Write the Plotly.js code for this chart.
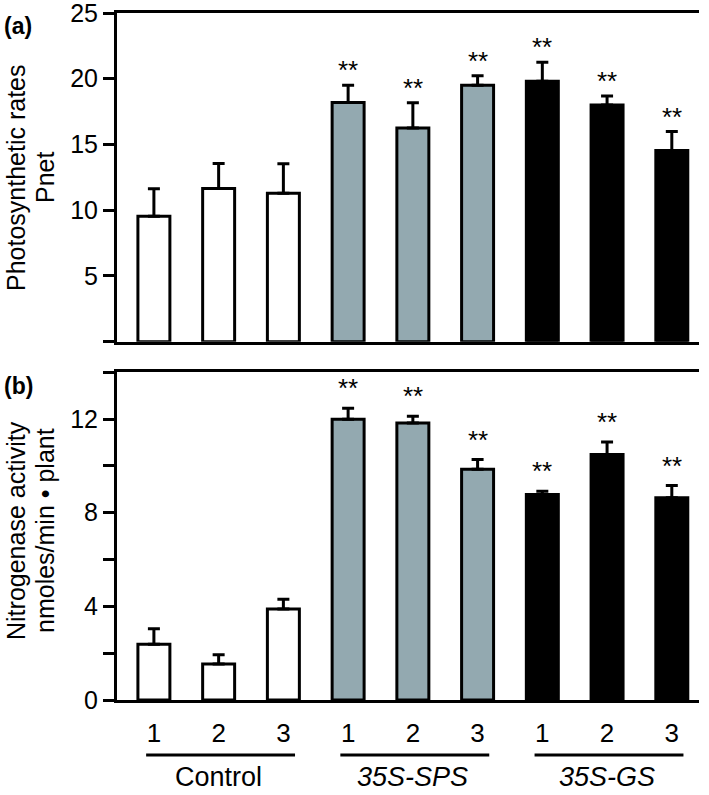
<!DOCTYPE html>
<html><head><meta charset="utf-8">
<script src="https://cdn.plot.ly/plotly-3.0.1.min.js"></script>
<style>html,body{margin:0;padding:0;background:#fff}#chart{width:709px;height:795px}</style>
</head><body><div id="chart"></div>
<script>
// ---- data ----
const groups = ['Control', '35S-SPS', '35S-GS'];
const lineLabels = ['1', '2', '3', '1', '2', '3', '1', '2', '3'];
const groupIndex = [0, 0, 0, 1, 1, 1, 2, 2, 2];
const pnet = [9.55, 11.65, 11.3, 18.2, 16.25, 19.5, 19.8, 18.0, 14.55];
const pnetErr = [2.08, 1.9, 2.24, 1.3, 1.93, 0.72, 1.46, 0.69, 1.43];
const pnetSig = ['', '', '', '**', '**', '**', '**', '**', '**'];
const nase = [2.38, 1.54, 3.89, 11.99, 11.83, 9.86, 8.78, 10.49, 8.64];
const naseErr = [0.66, 0.39, 0.41, 0.47, 0.29, 0.41, 0.14, 0.53, 0.52];
const naseSig = ['', '', '', '**', '**', '**', '**', '**', '**'];
const pnetTicks = [0, 5, 10, 15, 20, 25];
const pnetTickText = ['', '5', '10', '15', '20', '25'];
const naseTicks = [0, 2, 4, 6, 8, 10, 12, 14];
const naseTickText = ['0', '', '4', '', '8', '', '12', ''];
const pnetTitle = ['Photosynthetic rates', 'Pnet'];
const naseTitle = ['Nitrogenase activity', 'nmoles/min \u2022 plant'];

// ---- style ----
const FONT = 'Arial, "Liberation Sans", Helvetica, sans-serif';
const groupFill = ['#ffffff', '#93a9b0', '#000000'];
const xs = lineLabels.map((_, i) => i);
const fills = groupIndex.map(g => groupFill[g]);
const L = 117, PW = 582, PT = 13, PH = 687;
const px2x = p => (p - L) / PW;
const py2y = p => (PT + PH - p) / PH;

function barTrace(vals, errs, xa, ya) {
  return {
    type: 'bar', x: xs, y: vals, xaxis: xa, yaxis: ya, width: 0.494,
    marker: {color: fills, line: {color: '#000', width: 3}},
    error_y: {type: 'data', symmetric: false, array: errs, arrayminus: errs.map(() => 0),
              color: '#000', thickness: 3, width: 6},
    hoverinfo: 'skip', showlegend: false
  };
}

const annotations = [];
function addStars(vals, errs, sig, xa, ya, shift) {
  sig.forEach((s, i) => {
    if (!s) return;
    annotations.push({x: i, y: vals[i] + errs[i], xref: xa, yref: ya, text: s, showarrow: false,
      yanchor: 'middle', yshift: shift, font: {family: FONT, size: 26, color: '#000'}});
  });
}
addStars(pnet, pnetErr, pnetSig, 'x', 'y', 15);
addStars(nase, naseErr, naseSig, 'x2', 'y2', 20);

// y titles (one annotation per line) and panel labels
function addTitle(lines, cy) {
  const cx = [16, 45];
  lines.forEach((t, j) => {
    annotations.push({xref: 'paper', yref: 'paper', x: px2x(cx[j]), y: py2y(cy), textangle: -90,
      text: t, showarrow: false, xanchor: 'center', yanchor: 'middle',
      font: {family: FONT, size: 25, color: '#000'}});
  });
}
addTitle(pnetTitle, 178);
addTitle(naseTitle, 531);
annotations.push({xref: 'paper', yref: 'paper', x: px2x(18), y: py2y(26), text: '<b>(a)</b>', showarrow: false,
  xanchor: 'center', yanchor: 'middle', font: {family: FONT, size: 23, color: '#000'}});
annotations.push({xref: 'paper', yref: 'paper', x: px2x(18), y: py2y(386), text: '<b>(b)</b>', showarrow: false,
  xanchor: 'center', yanchor: 'middle', font: {family: FONT, size: 23, color: '#000'}});

// group labels and brackets
const shapes = [];
groups.forEach((g, k) => {
  const members = xs.filter(i => groupIndex[i] === k);
  const first = members[0], last = members[members.length - 1];
  shapes.push({type: 'line', xref: 'x2', yref: 'paper', x0: first - 0.12, x1: last + 0.18,
    y0: py2y(755), y1: py2y(755), line: {color: '#000', width: 3}});
  annotations.push({xref: 'x2', yref: 'paper', x: (first + last) / 2, y: py2y(777),
    text: k > 0 ? '<i>' + g + '</i>' : g, showarrow: false, xanchor: 'center', yanchor: 'middle',
    font: {family: FONT, size: 27, color: '#000'}});
});

const xBase = {range: [-0.57, 8.42], showline: true, linewidth: 3, linecolor: '#000', mirror: true,
  showgrid: false, zeroline: false, ticks: '', fixedrange: true};
const yBase = {showline: true, linewidth: 3, linecolor: '#000', mirror: false, showgrid: false,
  zeroline: false, ticks: 'outside', ticklen: 11, tickwidth: 3, tickcolor: '#000',
  ticklabeloverflow: 'allow',
  tickfont: {family: FONT, size: 25, color: '#000'}, fixedrange: true};

const layout = {
  width: 709, height: 795,
  margin: {l: L, r: 709 - L - PW, t: PT, b: 795 - PT - PH},
  paper_bgcolor: '#fff', plot_bgcolor: '#fff',
  font: {family: FONT, color: '#000'},
  showlegend: false,
  xaxis: Object.assign({}, xBase, {domain: [0, 1], anchor: 'y', showticklabels: false}),
  yaxis: Object.assign({}, yBase, {domain: [py2y(341.7), 1], anchor: 'x', range: [0, 25],
    tickmode: 'array', tickvals: pnetTicks, ticktext: pnetTickText}),
  xaxis2: Object.assign({}, xBase, {domain: [0, 1], anchor: 'y2', showticklabels: true,
    tickmode: 'array', tickvals: xs, ticktext: lineLabels, ticklabelstandoff: 8,
    tickfont: {family: FONT, size: 26, color: '#000'}}),
  yaxis2: Object.assign({}, yBase, {domain: [0, py2y(372.3)], anchor: 'x2', range: [0, 14],
    tickmode: 'array', tickvals: naseTicks, ticktext: naseTickText}),
  annotations: annotations,
  shapes: shapes
};

Plotly.newPlot('chart', [barTrace(pnet, pnetErr, 'x', 'y'), barTrace(nase, naseErr, 'x2', 'y2')],
  layout, {staticPlot: true, displayModeBar: false});
</script></body></html>
